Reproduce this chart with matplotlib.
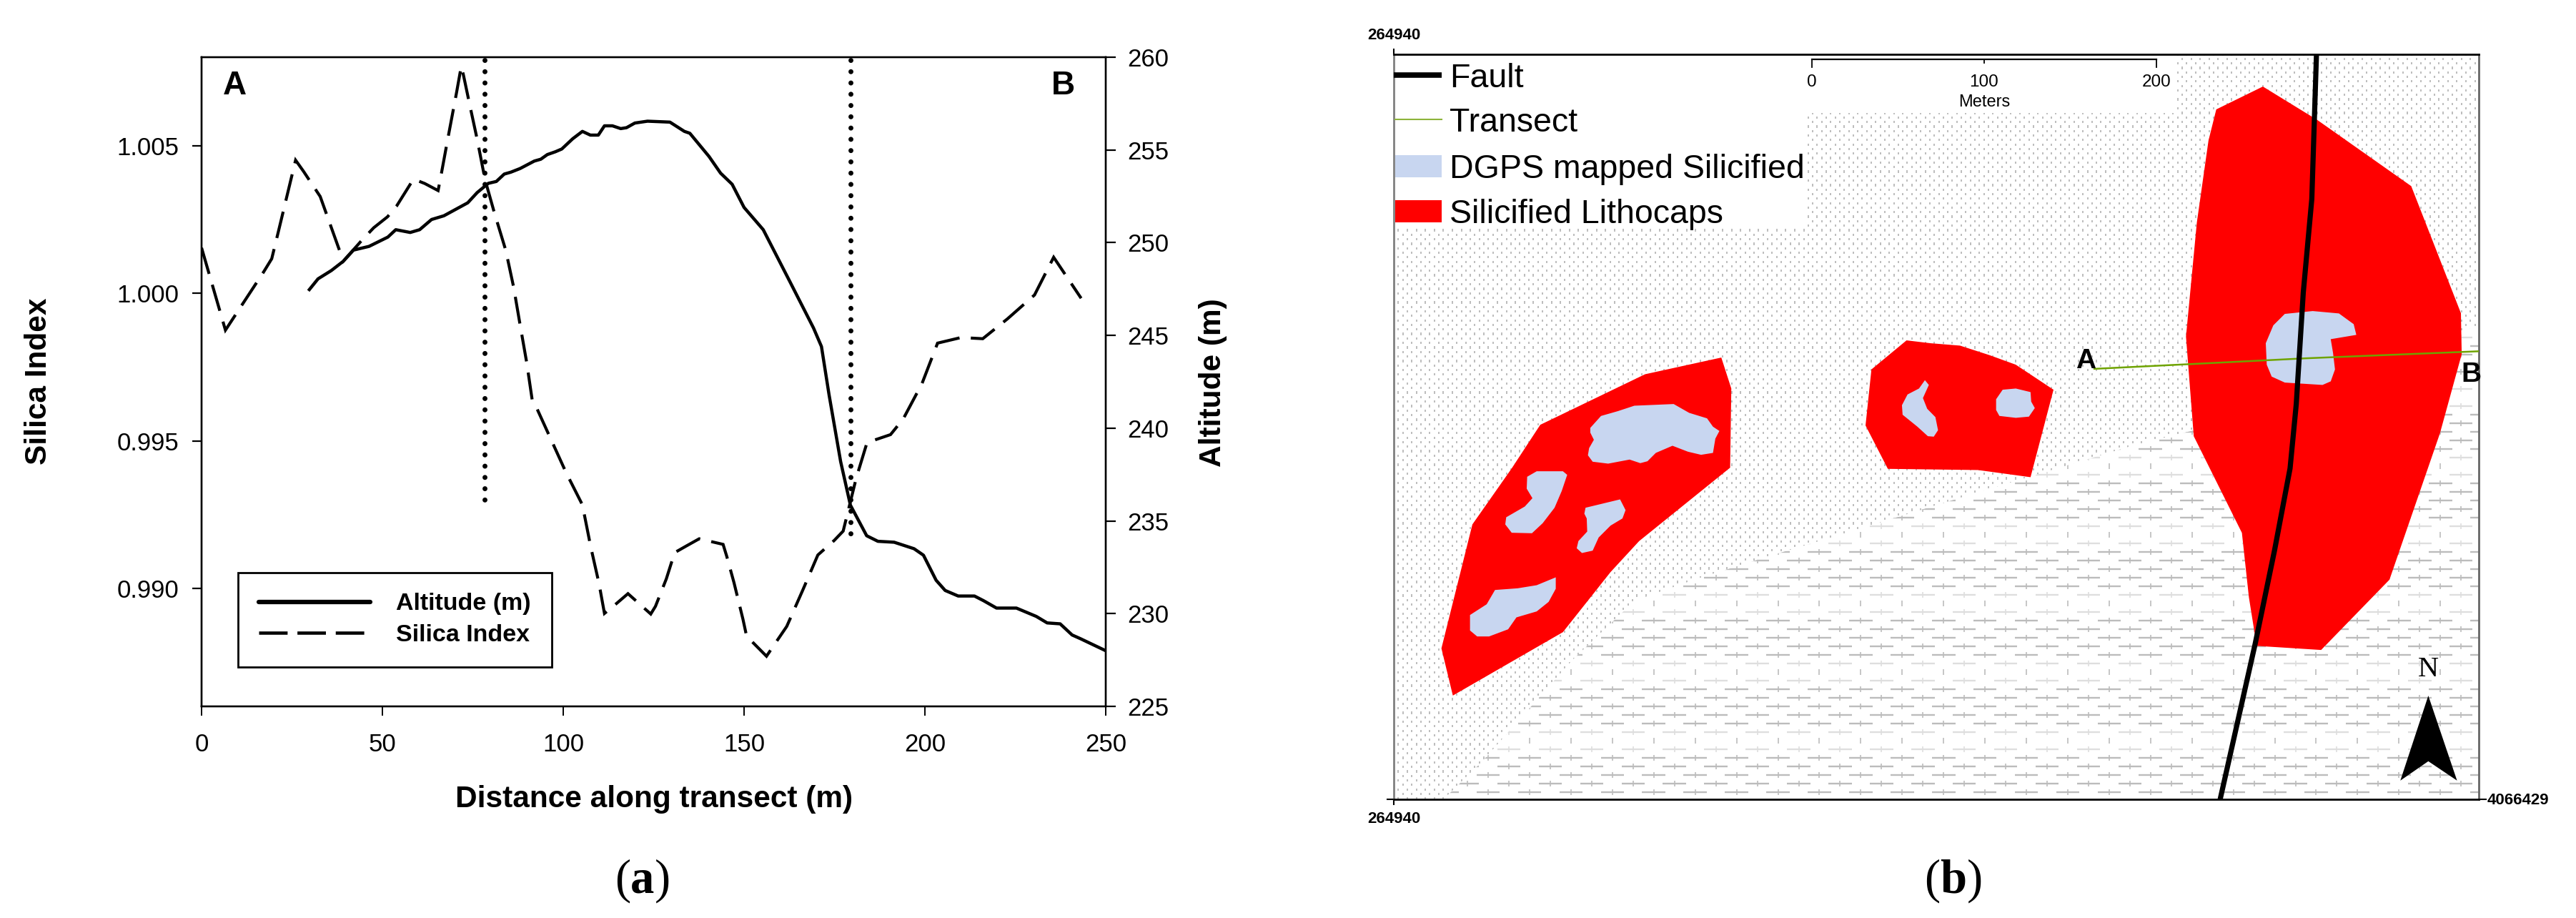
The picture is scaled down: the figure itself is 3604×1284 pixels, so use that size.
import numpy as np
import matplotlib
matplotlib.use("Agg")
import matplotlib.pyplot as plt
from matplotlib.patches import Polygon, Rectangle
from matplotlib.lines import Line2D
from matplotlib.collections import LineCollection

plt.rcParams['font.family'] = ['Liberation Sans', 'DejaVu Sans']
W, H = 3604, 1284

# ---------- panel (a) data ----------
silica_x = [0, 6.6, 17.2, 19.4, 21.1, 26, 28.2, 32.8, 39.2, 44.5, 47.6, 51.4, 53.9, 58.6, 61.7, 65.4, 66.1, 68,
            70.5, 71.8, 72.4, 74, 76.2, 78.4, 81, 84.1, 86.3, 88.1, 89.9, 91.4, 92.7, 100.8, 105.3, 107.6, 109.9,
            111.4, 114.1, 117.9, 124.2, 125.5, 128.5, 130.8, 134.1, 137.6, 144.2, 145.2, 147.2, 149.7, 150.7,
            156.2, 161.8, 166.3, 170.4, 174.9, 177.4, 181, 184, 190.5, 194, 199.2, 203.5, 210, 216, 222.8, 230.3,
            235.6, 243.2]
silica_y = [1.00154, 0.99875, 1.00073, 1.00117, 1.00202, 1.00451, 1.00413, 1.00328, 1.00109, 1.00182, 1.00222,
            1.00259, 1.00295, 1.00387, 1.00372, 1.00348, 1.00392, 1.00518, 1.0068, 1.00769, 1.0074, 1.00647,
            1.00522, 1.00384, 1.00271, 1.00146, 1.0002, 0.99891, 0.99765, 0.9964, 0.9961, 0.99392, 0.99283,
            0.99141, 0.99016, 0.98915, 0.98942, 0.98982, 0.98913, 0.98939, 0.99032, 0.99121, 0.99144, 0.99168,
            0.99149, 0.99109, 0.9902, 0.98895, 0.98838, 0.9877, 0.98871, 0.98996, 0.99113, 0.99162, 0.99194,
            0.99373, 0.99494, 0.99521, 0.99574, 0.99694, 0.99831, 0.9985, 0.99846, 0.99913, 0.99994, 1.00122,
            0.99983]
alt_x = [29.8, 32.2, 35.9, 39.2, 42, 46.3, 51.5, 53.7, 57.7, 60.3, 63.6, 67, 73.6, 76.2, 79.3, 81.5, 83.7, 85.5,
         88.1, 92, 93.8, 95.6, 97.8, 99.6, 102.6, 105.3, 107.5, 109.7, 111.4, 113.6, 115.9, 117.5, 119.8, 123.3,
         129.5, 133.5, 135, 140.3, 143.5, 146.7, 150, 155.3, 162.8, 169.2, 171.4, 173.5, 176.7, 179.4, 183.9, 187,
         191.5, 197, 199.6, 203.1, 205.6, 209.2, 213.7, 216.2, 219.8, 225.3, 230.8, 233.8, 237.4, 240.7, 243, 250]
alt_y = [247.47, 248.05, 248.5, 249.0, 249.6, 249.8, 250.3, 250.7, 250.55, 250.7, 251.25, 251.45, 252.15, 252.7,
         253.2, 253.3, 253.7, 253.8, 254.0, 254.4, 254.5, 254.75, 254.9, 255.05, 255.6, 256, 255.8, 255.8, 256.3,
         256.3, 256.15, 256.2, 256.45, 256.55, 256.5, 256.0, 255.9, 254.65, 253.75, 253.15, 251.9, 250.7, 247.85,
         245.4, 244.4, 241.8, 238.2, 235.85, 234.2, 233.9, 233.85, 233.5, 233.15, 231.8, 231.25, 230.95, 230.95,
         230.7, 230.3, 230.3, 229.85, 229.5, 229.45, 228.85, 228.65, 228.0]
marker_x = [78.3, 179.5]
marker_bottom = [0.99276, 0.9917]
x_ticks = [0, 50, 100, 150, 200, 250]
left_ticks = [0.990, 0.995, 1.000, 1.005]
right_ticks = [225, 230, 235, 240, 245, 250, 255, 260]

# ---------- panel (b) data (map units) ----------
frame_x = (46, 1443)
frame_y = (1365, 93)
boundary = [(110, 1365), (160, 1300), (276, 1127), (356, 1026), (435, 989), (531, 949), (614, 916), (800, 840),
            (1000, 760), (1076, 735), (1443, 555)]


def west(pts):
    return [(92 + u * 0.3067, 586.3 + v * 0.407) for u, v in pts]


def centre(pts):
    return [(644.1 + u * 0.4224, 513 + v * 0.407) for u, v in pts]


litho_left = west([(1225, 60), (905, 130), (465, 342), (345, 525), (180, 760), (50, 1280), (98, 1478), (560, 1212),
                   (760, 960), (880, 830), (1262, 522), (1267, 190)])
litho_mid = centre([(147, 168), (220, 180), (310, 190), (400, 230), (480, 270), (595, 375), (525, 742), (365, 712),
                    (90, 707), (22, 525), (40, 290)])
litho_right = [(1165, 148), (1235, 205), (1356, 318), (1420, 535), (1421, 605), (1393, 740), (1328, 990), (1240, 1110),
               (1157, 1103), (1147, 1020), (1138, 910), (1076, 745), (1066, 575), (1080, 380), (1095, 240), (1105, 187)]
dgps_patches = [
    west([(675, 355), (720, 305), (790, 285), (860, 262), (1025, 255), (1090, 292), (1165, 315), (1190, 350),
          (1217, 368), (1200, 400), (1190, 460), (1140, 468), (1085, 455), (1020, 430), (950, 460), (915, 495),
          (885, 503), (840, 488), (750, 505), (685, 497), (665, 470), (670, 440), (690, 405), (675, 375)]),
    west([(410, 560), (450, 537), (560, 537), (578, 552), (555, 620), (525, 690), (475, 755), (430, 797), (345, 795),
          (318, 760), (322, 730), (400, 685), (432, 650), (408, 610)]),
    west([(655, 690), (800, 655), (823, 700), (810, 735), (760, 765), (710, 815), (685, 870), (640, 880), (618, 860),
          (625, 830), (662, 790), (660, 735), (650, 715)]),
    west([(530, 982), (530, 1030), (500, 1085), (450, 1125), (365, 1150), (330, 1200), (250, 1230), (200, 1230),
          (170, 1205), (170, 1140), (240, 1095), (275, 1035), (370, 1028), (450, 1015)]),
    centre([(203, 335), (215, 355), (197, 410), (210, 455), (235, 490), (243, 545), (230, 572), (212, 570), (180, 530),
            (135, 480), (133, 440), (150, 395), (185, 370)]),
    centre([(440, 375), (480, 370), (525, 385), (527, 425), (538, 452), (520, 488), (480, 493), (430, 485), (420, 460),
            (420, 415)]),
    centre([(1300, 57), (1385, 45), (1465, 55), (1510, 100), (1518, 145), (1440, 163), (1447, 220), (1453, 290),
            (1440, 340), (1415, 355), (1300, 345), (1260, 320), (1245, 270), (1242, 180), (1265, 105)]),
]
fault_x = [1234, 1228, 1217, 1208, 1200, 1180, 1155, 1110]
fault_y = [93, 340, 500, 690, 800, 940, 1100, 1365]
transect_x = [948, 1070, 1220, 1443]
transect_y = [630, 622, 612, 600]
north_arrow = [(1378, 1188), (1342, 1333), (1378, 1300), (1415, 1333)]
legend_labels = ['Fault', 'Transect', 'DGPS mapped Silicified', 'Silicified Lithocaps']
legend_y = [128, 204, 284, 361]
scale_x = [584, 806, 1028]
scale_labels = ['0', '100', '200']

RED = '#ff0000'
BLUE = '#c8d6f0'
GREEN = '#6fa300'

fig = plt.figure(figsize=(W / 100, H / 100), dpi=100, facecolor='white')


def T(px, py, s, **kw):
    return fig.text(px / W, 1 - py / H, s, **kw)


# ---------- panel (a) ----------
ax = fig.add_axes([282 / W, 1 - 988 / H, (1547 - 282) / W, 908 / H])
ax.set_xlim(0, 250)
ax.set_ylim(0.986, 1.008)
ax.set_xticks(x_ticks)
ax.set_yticks(left_ticks)
ax.set_yticklabels(['%.3f' % v for v in left_ticks])
ax.tick_params(axis='x', length=9.5, width=1.4, pad=17, labelsize=25)
ax.tick_params(axis='y', length=9.5, width=1.6, pad=13, labelsize=25)
ax.plot(silica_x, silica_y, color='k', lw=3.0, dashes=(9.1, 3.8), dash_capstyle='butt', dash_joinstyle='miter')
for mx, mb in zip(marker_x, marker_bottom):
    ax.plot([mx, mx], [1.0079, mb], color='k', lw=5.0, dashes=(0.01, 2.26), dash_capstyle='round', clip_on=False,
            zorder=4)
ax2 = ax.twinx()
ax2.set_ylim(225, 260)
ax2.set_yticks(right_ticks)
ax2.tick_params(axis='y', length=10, width=1.6, pad=12, labelsize=25)
ax2.plot(alt_x, alt_y, color='k', lw=3.2)
for a in (ax, ax2):
    for s in a.spines.values():
        s.set_linewidth(1.7)
handles = [Line2D([], [], color='k', lw=4.5, solid_capstyle='round'),
           Line2D([], [], color='k', lw=3.3, dashes=(8.7, 3.0), dash_capstyle='butt')]
leg = ax2.legend(handles, ['Altitude (m)', 'Silica Index'], loc='lower left',
                 bbox_to_anchor=((333 - 282) / 1265, (988 - 933) / 908),
                 borderaxespad=0, frameon=True, fancybox=False, framealpha=1, edgecolor='k',
                 prop={'weight': 'bold', 'size': 24.5}, handlelength=4.6, handletextpad=1.05, labelspacing=0.37,
                 borderpad=0.85)
leg.get_frame().set_linewidth(2.0)
T(915, 1118, 'Distance along transect (m)', ha='center', va='center', fontweight='bold', fontsize=30.5)
T(54, 533, 'Silica Index', ha='center', va='center', rotation=90, fontweight='bold', fontsize=30.5)
T(1697, 535, 'Altitude (m)', ha='center', va='center', rotation=90, fontweight='bold', fontsize=30.5)
T(328, 120, 'A', ha='center', va='center', fontweight='bold', fontsize=33)
T(1487, 120, 'B', ha='center', va='center', fontweight='bold', fontsize=33)

serif = ['Liberation Serif', 'DejaVu Serif']
for x0, ch in [(871, '('), (899, 'a'), (927, ')')]:
    T(x0, 1232, ch, ha='center', va='center', fontsize=48, family=serif,
      fontweight='bold' if ch == 'a' else 'normal')
for x0, ch in [(2703, '('), (2733, 'b'), (2763, ')')]:
    T(x0, 1232, ch, ha='center', va='center', fontsize=48, family=serif,
      fontweight='bold' if ch == 'b' else 'normal')

# ---------- panel (b) ----------
bx = fig.add_axes([1950 / W, 1 - 1118 / H, (3468 - 1950) / W, (1118 - 76) / H])
bx.set_xlim(*frame_x)
bx.set_ylim(*frame_y)
bx.set_xticks([])
bx.set_yticks([])

upper_unit = [(46, 93), (1443, 93)] + boundary[::-1] + [(46, 1365)]
lower_unit = boundary + [(1443, 1365)]
upper_patch = Polygon(upper_unit, closed=True, facecolor='white', edgecolor='none', zorder=1)
lower_patch = Polygon(lower_unit, closed=True, facecolor='white', edgecolor='none', zorder=1)
bx.add_patch(upper_patch)
bx.add_patch(lower_patch)

# stippled texture of the upper unit
dots = []
for i, yy in enumerate(np.arange(frame_y[1], frame_y[0] + 1, 7.7)):
    off = 0 if i % 2 == 0 else 5.8
    for xx in np.arange(frame_x[0], frame_x[1] + 12, 11.6):
        dots.append([(xx + off, yy - 2.0), (xx + off, yy + 2.0)])
lc = LineCollection(dots, colors='#bdbdbd', linewidths=1.4, zorder=1.5)
bx.add_collection(lc)
lc.set_clip_path(upper_patch)

# brick-like texture of the lower unit
row_h = 14.65
period = 53.3
for k, (yy_colour, dash_on) in enumerate([('#bcbcbc', True), ('#dedede', True), ('#bcbcbc', False)]):
    dashes_, ticks_ = [], []
    for i, yy in enumerate(np.arange(frame_y[1], frame_y[0] + 1, row_h)):
        phase = i % 8
        group = 2 if phase == 0 else (1 if phase in (1, 7) else 0)
        if group != k:
            continue
        off = 0 if i % 2 == 0 else period / 2
        for xx in np.arange(frame_x[0] - period, frame_x[1] + period, period):
            if dash_on:
                dashes_.append([(xx + off, yy), (xx + off + 30, yy)])
            ticks_.append([(xx + off + 15, yy - 5), (xx + off + 15, yy + 5)])
    for s_, lw_ in ((dashes_, 1.7), (ticks_, 1.2)):
        if s_:
            lc = LineCollection(s_, colors=yy_colour, linewidths=lw_, zorder=1.5)
            bx.add_collection(lc)
            lc.set_clip_path(lower_patch)

bx.add_patch(Rectangle((46, 93), 529, 297, facecolor='white', edgecolor='none', zorder=2))
bx.add_patch(Rectangle((575, 93), 475, 100, facecolor='white', edgecolor='none', zorder=2))

for poly in (litho_left, litho_mid, litho_right):
    bx.add_patch(Polygon(poly, closed=True, facecolor=RED, edgecolor='none', zorder=3))
for poly in dgps_patches:
    bx.add_patch(Polygon(poly, closed=True, facecolor=BLUE, edgecolor='none', zorder=4))
bx.plot(transect_x, transect_y, color=GREEN, lw=1.8, zorder=5)
bx.plot(fault_x, fault_y, color='k', lw=5.2, zorder=6, solid_capstyle='butt')
bx.add_patch(Polygon(north_arrow, closed=True, facecolor='k', edgecolor='none', zorder=6))

# legend of the map
bx.plot([46, 108], [legend_y[0]] * 2, color='k', lw=5.5, zorder=7, solid_capstyle='butt', clip_on=False)
bx.plot([48, 108], [legend_y[1]] * 2, color='#8db33a', lw=1.5, zorder=7)
bx.add_patch(Rectangle((48, 265), 60, 38, facecolor=BLUE, edgecolor='none', zorder=7))
bx.add_patch(Rectangle((48, 342), 60, 38, facecolor=RED, edgecolor='none', zorder=7))
for lab, yy in zip(legend_labels, legend_y):
    bx.text(118, yy + 6, lab, ha='left', va='center', fontsize=33.5, zorder=8)

# scale bar
bx.plot(scale_x, [101] * 3, color='k', lw=1.6, zorder=7)
for sx, tl in zip(scale_x, (115, 108, 115)):
    bx.plot([sx, sx], [101, tl], color='k', lw=1.3, zorder=7)
for sx, lab in zip(scale_x, scale_labels):
    bx.text(sx, 140, lab, ha='center', va='center', fontsize=17.5, zorder=8)
bx.text(806, 175, 'Meters', ha='center', va='center', fontsize=17, zorder=8)

bx.text(937, 617, 'A', ha='center', va='center', fontweight='bold', fontsize=28, zorder=8)
bx.text(1433, 640, 'B', ha='center', va='center', fontweight='bold', fontsize=28, zorder=8, clip_on=False)
bx.text(1378, 1143, 'N', ha='center', va='center', fontsize=29, family=serif, zorder=8)

bx.spines['top'].set_color('k')
bx.spines['bottom'].set_color('k')
bx.spines['left'].set_color('#808080')
bx.spines['right'].set_color('#666666')
for s in bx.spines.values():
    s.set_linewidth(2.0)

# corner coordinates
for p in ([(46, 93), (46, 84)], [(46, 1365), (38, 1365)], [(46, 1365), (46, 1374)], [(1443, 1365), (1452, 1365)]):
    bx.plot(*zip(*p), color='k', lw=1.5, clip_on=False)
bx.text(46, 61, '264940', ha='center', va='center', fontweight='bold', fontsize=16, clip_on=False)
bx.text(46, 1398, '264940', ha='center', va='center', fontweight='bold', fontsize=16, clip_on=False)
bx.text(1454, 1367, '4066429', ha='left', va='center', fontweight='bold', fontsize=16, clip_on=False)

fig.savefig('out.png', dpi=100, facecolor='white')
